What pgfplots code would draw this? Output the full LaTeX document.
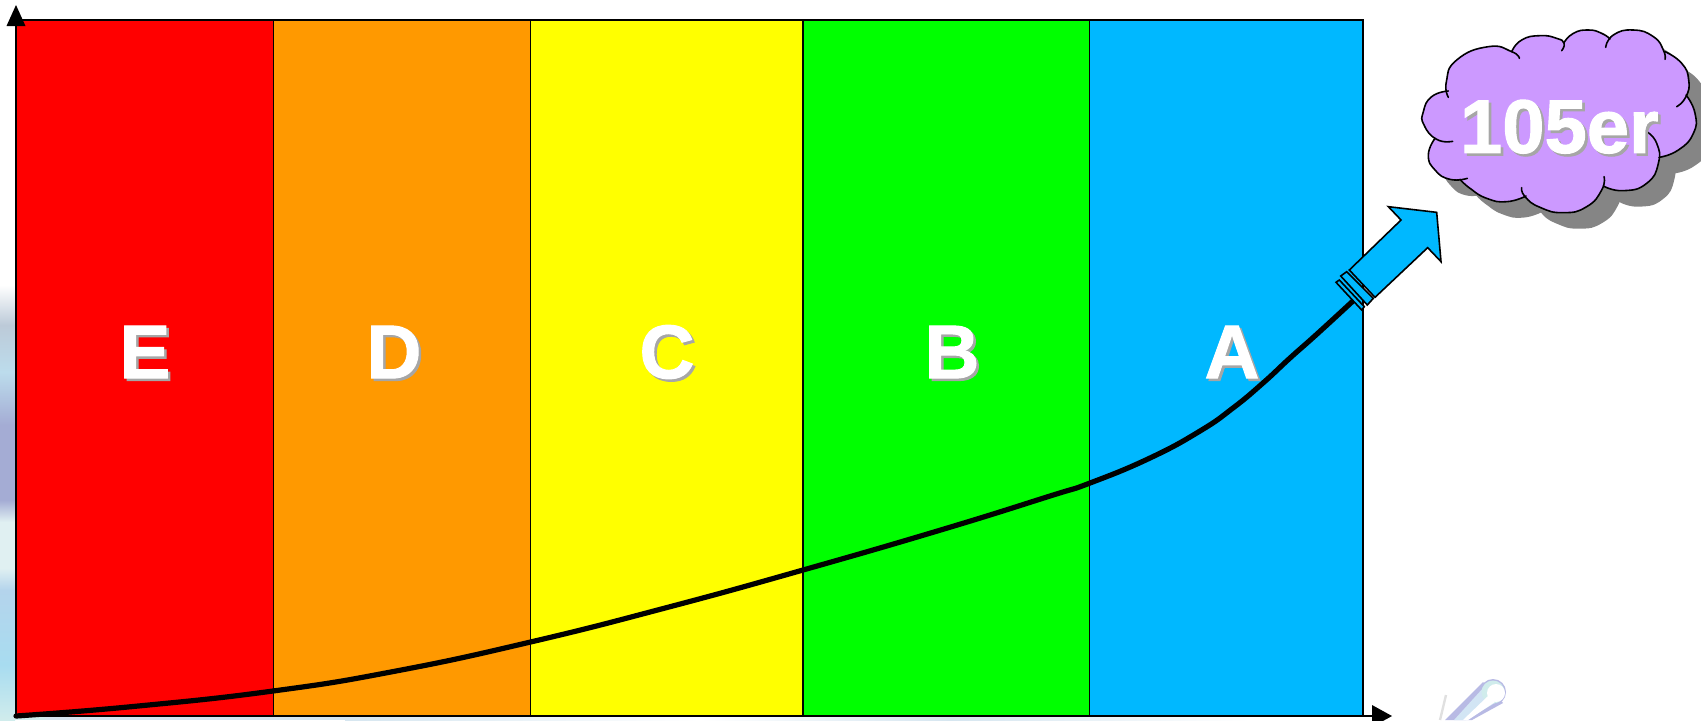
\documentclass[border=0pt]{standalone}
\usepackage{pgfplots}
\pgfplotsset{compat=1.18}
\usepackage{fontspec}
\setmainfont{Liberation Sans}
\newfontfamily\heavy[FakeBold=1.3]{Liberation Sans Bold}
\definecolor{bE}{HTML}{FF0000}
\definecolor{bD}{HTML}{FF9900}
\definecolor{bC}{HTML}{FFFF00}
\definecolor{bB}{HTML}{00FF00}
\definecolor{bA}{HTML}{00B8FF}
\definecolor{cloudc}{HTML}{CC99FF}
\definecolor{shadowc}{HTML}{858585}
\definecolor{lshadow}{HTML}{A6A6A6}
\definecolor{p0}{HTML}{BCCAD8}
\definecolor{p1}{HTML}{BCDCEC}
\definecolor{p2}{HTML}{A4ACD4}
\definecolor{p3}{HTML}{E0F0F2}
\definecolor{p4}{HTML}{B4D4EC}
\definecolor{p6}{HTML}{A8DCF0}
\definecolor{p7}{HTML}{D0ECEC}
\definecolor{p5}{HTML}{9A9CD8}
\definecolor{p8}{HTML}{D6E6F0}
\newcommand{\bandlabel}[3]{%
  \node[text=lshadow,font=\fontsize{38}{38}\selectfont\heavy] at (axis cs:#1+2.5,#2+2.5) {#3};
  \node[text=white,font=\fontsize{38}{38}\selectfont\heavy] at (axis cs:#1,#2) {#3};}
\def\cloudA{(505,292)(499,245)(530,180)(625,140)(695,155)(718,175)}
\def\cloudB{(695,155)(725,120)(780,107)(830,115)(852,130)(845,152)}
\def\cloudC{(852,128)(880,100)(925,90)(965,100)(990,117)}
\def\cloudD{(977,142)(1000,105)(1060,90)(1120,110)(1150,150)(1155,178)}
\def\cloudE{(1155,155)(1205,190)(1226,240)(1218,290)(1190,320)}
\def\cloudF{(1218,285)(1245,340)(1240,400)(1195,450)(1137,472)}
\def\cloudG{(1100,395)(1130,430)(1135,490)(1100,550)(1030,572)(970,558)}
\def\cloudH{(972,530)(965,570)(920,620)(850,638)(780,622)(735,590)(725,563)}
\def\cloudI{(738,588)(680,605)(620,595)(570,565)(540,538)}
\def\cloudJ{(562,535)(510,538)(465,510)(445,465)(465,415)}
\def\cloudK{(518,424)(470,418)(432,375)(430,335)(455,290)(505,273)}
\tikzset{cl/.style={smooth,tension=.9}}
\newcommand{\cloudfill}{plot[cl] coordinates {\cloudA} -- plot[cl] coordinates {\cloudB} -- plot[cl] coordinates {\cloudC} -- plot[cl] coordinates {\cloudD} -- plot[cl] coordinates {\cloudE} -- plot[cl] coordinates {\cloudF} -- plot[cl] coordinates {\cloudG} -- plot[cl] coordinates {\cloudH} -- plot[cl] coordinates {\cloudI} -- plot[cl] coordinates {\cloudJ} -- plot[cl] coordinates {\cloudK} -- cycle}
\begin{document}
\begin{tikzpicture}
\path[use as bounding box] (0,0) rectangle (850.5pt,360pt);
% faint picture behind the chart (pixel scale)
\begin{scope}[x=.5pt,y=-.5pt,shift={(0pt,360pt)}]
\shade[top color=white,bottom color=p0] (0,285) rectangle (15,325);
\shade[top color=p0,bottom color=p1] (0,325) rectangle (15,372);
\shade[top color=p1,bottom color=p2] (0,372) rectangle (15,425);
\fill[p2] (0,425) rectangle (15,500);
\shade[top color=p2,bottom color=p3] (0,500) rectangle (15,522);
\fill[p3] (0,522) rectangle (15,568);
\shade[top color=p3,bottom color=p4] (0,568) rectangle (15,590);
\shade[top color=p4,bottom color=p6] (0,590) rectangle (15,665);
\shade[top color=p6,bottom color=p7] (0,665) rectangle (15,720);
\fill[p7] (15,717) rectangle (45,720);
\fill[p8] (45,717) rectangle (345,720);
\shade[left color=p8,right color=white] (345,717) rectangle (700,720);
\shade[left color=white,right color=p8] (700,717) rectangle (950,720);
\shade[left color=p8,right color=white] (950,717) rectangle (1250,720);
% comet
\fill[p5!70!white] (1445,720) -- (1483,682) -- (1503,703) -- (1472,720) -- cycle;
\fill[p5!70!white] (1493,692) circle (13);
\fill[p4!60!white] (1454,720) -- (1484,687) -- (1500,700) -- (1466,720) -- cycle;
\fill[p7] (1493,692) circle (11.5);
\fill[white] (1463,720) -- (1488,696) -- (1495,702) -- (1468,720) -- cycle;
\fill[white] (1496,693) circle (9);
\draw[black!12,line width=1.2pt] (1440,720) -- (1446,695);
\end{scope}
\begin{axis}[
  at={(0,0)},anchor=south west,
  x=.5pt,y=.5pt,
  xmin=0,xmax=1701,ymin=0,ymax=720,
  y dir=reverse,
  hide axis,clip=false]
\addplot[fill=bE,draw=black,line width=.8pt] coordinates {(16,20)(273.5,20)(273.5,716)(16,716)} -- cycle;
\addplot[fill=bD,draw=black,line width=.8pt] coordinates {(273.5,20)(530.5,20)(530.5,716)(273.5,716)} -- cycle;
\addplot[fill=bC,draw=black,line width=.8pt] coordinates {(530.5,20)(803,20)(803,716)(530.5,716)} -- cycle;
\addplot[fill=bB,draw=black,line width=.8pt] coordinates {(803,20)(1089.5,20)(1089.5,716)(803,716)} -- cycle;
\addplot[fill=bA,draw=black,line width=.8pt] coordinates {(1089.5,20)(1363,20)(1363,716)(1089.5,716)} -- cycle;
% axes
\addplot[black,line width=1pt] coordinates {(16,716)(16,24)};
\addplot[black,line width=1pt] coordinates {(16,716)(1374,716)};
\addplot[fill=black,draw=none] coordinates {(16,5)(25.5,26)(6.5,26)} -- cycle;
\addplot[fill=black,draw=none] coordinates {(1392,716)(1372,705)(1372,727)} -- cycle;
% curve
\addplot[black,line width=2.6pt,smooth,tension=.8,line cap=round] coordinates {
 (16,716)(133,706.5)(273,691)(396,671)(530.5,642)(667,607.5)(803,570)(944,529)
 (1050,496)(1090,483)(1150,458)(1200,431)(1233,408)(1263,383)(1290,358)(1317,334)(1354,300)};
\bandlabel{145}{352}{E}
\bandlabel{394}{352}{D}
\bandlabel{667}{352}{C}
\bandlabel{952}{352}{B}
\bandlabel{1232}{352}{A}
\end{axis}
% arrow sleeve (pixel scale)
\begin{scope}[x=.5pt,y=-.5pt,shift={(0pt,360pt)},line width=.8pt,line join=miter]
\draw[fill=bA] (1336,282.3) -- (1339.3,280) -- (1364.3,306.7) -- (1361.7,310) -- cycle;
\draw[fill=bA] (1340.7,276) -- (1346.7,271.7) -- (1373.3,298.3) -- (1367.3,305) -- cycle;
\end{scope}
% cloud and arrow (coordinates of the 3x crop at 1280,0)
\begin{scope}[x=.166667pt,y=-.166667pt,shift={(640pt,360pt)}]
\draw[fill=bA,line width=.8pt,line join=miter] (325,620) -- (470,637) -- (483,785) -- (443,743) -- (285,892) -- (208,810) -- (363,660) -- cycle;
\begin{scope}[shift={(48,48)}]
\fill[shadowc] \cloudfill;
\end{scope}
\fill[cloudc] \cloudfill;
\foreach \c in {\cloudA,\cloudB,\cloudC,\cloudD,\cloudE,\cloudF,\cloudG,\cloudH,\cloudI,\cloudJ,\cloudK}{
  \draw[black,line width=.8pt,line cap=round] plot[cl] coordinates {\c};}
\node[text=lshadow,font=\fontsize{38}{38}\selectfont\heavy] at (846,388) {105er};
\node[text=white,font=\fontsize{38}{38}\selectfont\heavy] at (838,380) {105er};
\end{scope}
\end{tikzpicture}
\end{document}
